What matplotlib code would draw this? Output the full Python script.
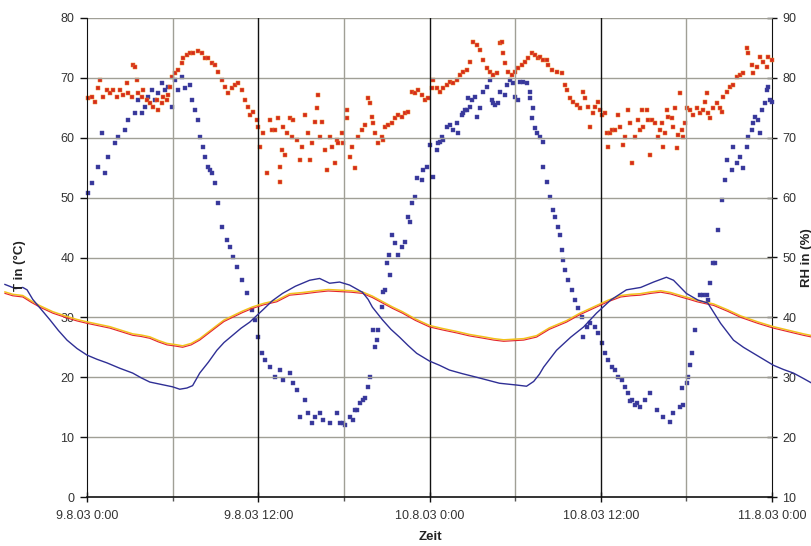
import matplotlib
matplotlib.use("Agg")
import matplotlib.pyplot as plt
import numpy as np

plt.rcParams['font.family'] = ['Liberation Sans', 'DejaVu Sans']

# ---- data (time in hours from 9.8.03 0:00) ----
tick_hours = [0, 12, 24, 36, 48]
tick_labels = ["9.8.03 0:00", "9.8.03 12:00", "10.8.03 0:00", "10.8.03 12:00", "11.8.03 0:00"]
t_ticks = [0, 10, 20, 30, 40, 50, 60, 70, 80]
rh_ticks = [10, 20, 30, 40, 50, 60, 70, 80, 90]

# Temperature sensor 1 (blue line), degC
T1_h = [-5.75, -5.0, -4.5, -4.2, -3.8, -3.2, -2.6, -2.0, -1.4, -0.7, 0, 0.7, 1.4, 2.3, 3.2, 3.8, 4.4, 5.2,
        6.0, 6.5, 7.0, 7.4, 7.9, 8.5, 9.1, 9.6, 10.2, 10.8, 11.4, 12.3, 13.0, 13.7, 14.6, 15.6, 16.3, 17.0,
        17.7, 18.4, 19.3, 19.7, 20.0, 20.7, 21.3, 21.9, 22.5, 23.1, 24.0, 24.7, 25.4, 26.3, 27.3, 28.1, 28.9,
        30.1, 30.8, 31.3, 31.7, 32.0, 32.9, 33.9, 34.8, 35.7, 36.7, 37.8, 38.8, 39.7, 40.6, 41.1, 42.0, 42.8,
        43.5, 44.4, 45.3, 46.0, 46.7, 47.4, 48.1, 48.8, 49.5, 50.2, 50.8]
T1 = [35.5, 34.8, 35.0, 34.6, 33.0, 31.3, 29.6, 27.8, 26.2, 24.8, 23.7, 23.0, 22.4, 21.5, 20.7, 19.9, 19.2, 18.8,
      18.4, 18.0, 18.2, 18.6, 20.7, 22.5, 24.5, 25.8, 27.0, 28.2, 29.2, 31.2, 32.8, 34.0, 35.2, 36.2, 36.5, 35.7,
      35.9, 35.4, 34.2, 33.0, 31.7, 29.6, 28.0, 26.7, 25.3, 24.0, 22.7, 22.0, 21.2, 20.6, 20.0, 19.5, 19.0,
      18.7, 18.5, 19.3, 20.5, 21.7, 24.5, 26.7, 28.4, 30.7, 32.9, 34.6, 35.0, 35.9, 36.7, 36.2, 34.0, 32.9,
      32.4, 29.0, 26.2, 25.0, 24.0, 23.0, 22.0, 21.3, 20.7, 19.8, 19.0]

# Temperature sensor 2 (red line), degC
T2_h = [-5.75, -5.2, -4.5, -3.9, -3.3, -2.4, -1.4, -0.7, 0, 0.8, 1.6, 2.4, 3.2, 3.8, 4.4, 5.0, 5.6, 6.2, 6.7,
        7.3, 7.9, 8.5, 9.1, 9.6, 10.2, 10.9, 11.6, 12.4, 13.3, 14.2, 15.1, 16.1, 16.9, 17.7, 18.5, 19.3, 20.0,
        20.7, 21.4, 22.1, 23.0, 24.0, 24.9, 25.9, 26.8, 27.8, 28.5, 29.2, 29.9, 30.6, 31.5, 32.4, 33.6, 34.5,
        35.5, 36.5, 37.4, 38.1, 38.75, 39.5, 40.2, 40.9, 41.6, 42.2, 42.75, 43.3, 43.9, 44.9, 45.8, 47.0, 48.1,
        48.8, 49.5, 50.2, 50.8]
T2 = [34.0, 33.6, 33.4, 32.5, 31.7, 30.7, 29.9, 29.4, 29.0, 28.6, 28.2, 27.6, 27.0, 26.8, 26.5, 25.9, 25.4, 25.2,
      25.0, 25.4, 26.2, 27.3, 28.4, 29.3, 30.0, 30.8, 31.5, 32.1, 32.6, 33.7, 33.9, 34.2, 34.4, 34.3, 34.2, 34.0,
      33.3, 32.4, 31.5, 30.7, 29.5, 28.4, 27.9, 27.4, 26.9, 26.5, 26.2, 26.0, 26.1, 26.2, 26.7, 28.0, 29.2, 30.4,
      31.5, 32.6, 33.4, 33.6, 33.7, 34.0, 34.2, 33.9, 33.4, 33.0, 32.6, 32.3, 32.0, 31.0, 30.0, 29.0, 28.2,
      27.8, 27.4, 27.0, 26.7]

# Relative humidity sensor 1 (red dots), %
RH1_h = [0.07, 0.35, 0.56, 0.77, 0.91, 1.12, 1.40, 1.61, 1.82, 2.10, 2.31, 2.52, 2.80, 2.87, 3.15, 3.22, 3.36,
         3.50, 3.57, 3.85, 3.92, 4.20, 4.41, 4.63, 4.91, 4.98, 5.26, 5.33, 5.61, 5.68, 5.82, 5.96, 6.17, 6.38,
         6.66, 6.73, 7.01, 7.22, 7.43, 7.78, 8.06, 8.27, 8.48, 8.76, 8.97, 9.18, 9.46, 9.67, 9.88, 10.16, 10.37,
         10.58, 10.86, 11.07, 11.28, 11.42, 11.63, 11.91, 11.98,
         12.12, 12.33, 12.61, 12.82, 12.96, 13.17, 13.38, 13.52, 13.52, 13.67, 13.74, 13.88, 14.02, 14.23, 14.37,
         14.44, 14.72, 14.93, 15.07, 15.28, 15.49, 15.63, 15.77, 15.98, 16.12, 16.19, 16.33, 16.47, 16.68, 16.82,
         17.03, 17.17, 17.38, 17.52, 17.59, 17.87, 17.94, 18.22, 18.22, 18.43, 18.57, 18.78, 18.99, 19.27, 19.48,
         19.69, 19.83, 19.97, 20.04, 20.18, 20.39, 20.67, 20.74, 20.88, 21.09, 21.37, 21.58, 21.79, 22.07, 22.28,
         22.49, 22.78, 22.99, 23.20, 23.48, 23.69, 23.90, 24.18, 24.25, 24.53, 24.74, 24.95, 25.23, 25.44, 25.65,
         25.93, 26.14, 26.35, 26.63, 26.84, 27.05, 27.33, 27.54, 27.75, 28.03, 28.24, 28.45, 28.73, 28.94, 29.08,
         29.15, 29.29, 29.50, 29.78, 29.99, 30.20, 30.48, 30.69, 30.90, 31.18, 31.39, 31.60, 31.74, 31.96, 32.24,
         32.31, 32.59, 32.94, 33.29, 33.50, 33.64, 33.85, 34.06, 34.34, 34.55, 34.76, 34.90, 35.11, 35.25, 35.46,
         35.60, 35.81, 35.95, 36.09, 36.30, 36.44, 36.51, 36.65, 36.79, 37.00, 37.21, 37.35, 37.56, 37.70, 37.91,
         38.05, 38.19, 38.40, 38.61, 38.75, 38.89, 38.96, 39.24, 39.31, 39.45, 39.59, 39.80, 40.01, 40.15, 40.29,
         40.36, 40.50, 40.64, 40.71, 40.99, 41.07, 41.21, 41.35, 41.42, 41.56, 41.70, 41.77, 41.91, 42.05, 42.26,
         42.47, 42.75, 42.96, 43.17, 43.31, 43.45, 43.52, 43.66, 43.87, 44.15, 44.36, 44.50, 44.57, 44.85, 45.06,
         45.27, 45.55, 45.76, 45.97, 46.25, 46.32, 46.60, 46.67, 46.95, 47.16, 47.37, 47.65, 47.72, 48.00]
RH1 = [76.6, 76.8, 76.0, 78.3, 79.6, 76.8, 78.0, 77.5, 78.0, 76.8, 78.0, 77.1, 79.1, 77.5, 76.8, 82.1, 81.8,
       79.6, 77.5, 76.8, 78.0, 76.3, 75.8, 75.1, 76.3, 74.6, 75.8, 76.8, 76.3, 77.1, 78.5, 80.1, 80.8, 81.3,
       82.5, 83.3, 83.8, 84.1, 84.2, 84.5, 84.1, 83.3, 83.3, 82.5, 82.1, 81.0, 79.6, 78.5, 77.5, 78.3, 78.8,
       79.1, 78.0, 76.3, 75.1, 73.8, 74.3, 73.0, 71.8,
       68.5, 70.8, 64.1, 73.0, 71.3, 71.3, 73.3, 65.1, 62.6, 68.0, 71.8, 67.1, 70.8, 73.3, 70.1,
       73.0, 69.6, 66.3, 68.5, 73.8, 70.8, 66.3, 69.1, 72.6, 75.0, 77.1, 70.1, 72.6, 68.0, 64.6,
       70.1, 68.5, 65.8, 69.6, 69.1, 70.8, 69.1, 73.3, 74.6, 66.8, 68.5, 64.9, 70.1, 71.3, 72.1,
       76.6, 75.8, 73.5, 72.5, 70.8, 69.1, 70.1, 69.6, 71.8, 72.1, 72.5, 73.3, 73.8, 73.5, 74.1,
       74.3, 77.6, 77.5, 78.0, 77.1, 76.3, 76.6, 78.3, 79.6, 78.3, 77.6, 78.3, 78.8, 79.3, 79.1,
       79.6, 80.5, 81.0, 81.3, 82.6, 86.0, 85.5, 84.7, 83.0, 81.7, 81.0, 80.5, 80.8, 85.8, 86.0,
       84.1, 82.5, 81.0, 80.5, 81.0, 81.7, 82.1, 82.6, 83.3, 84.1, 83.8, 83.3, 83.5, 83.0, 83.0,
       82.1, 81.3, 81.0, 80.8, 78.8, 78.0, 76.6, 76.0, 75.5, 74.9, 77.6, 76.6, 75.1, 71.8, 74.1,
       75.1, 76.0, 74.6, 73.8, 74.1, 70.8, 68.5, 70.8, 71.3, 71.3, 73.8, 71.8, 68.8, 70.1, 74.6,
       72.5, 65.8, 70.1, 73.0, 71.3, 74.6, 71.8, 74.6, 73.0, 67.1, 73.0, 72.5, 70.1, 71.3, 72.5,
       68.5, 70.8, 74.6, 73.5, 73.3, 71.8, 74.9, 68.3, 70.5, 77.5, 71.3, 70.1, 72.5, 74.9, 74.6,
       73.8, 74.9, 74.1, 74.6, 76.0, 77.5, 74.1, 73.3, 74.9, 75.8, 74.9, 74.3, 76.8, 77.6, 78.5,
       78.8, 80.1, 80.5, 80.8, 85.0, 84.1, 82.1, 80.8, 81.8, 83.5, 82.6, 81.8, 83.5, 83.0]

# Relative humidity sensor 2 (blue dots), %
RH2_h = [0.07, 0.35, 0.77, 1.05, 1.26, 1.47, 1.96, 2.17, 2.66, 2.87, 3.36, 3.57, 3.85, 4.06, 4.27, 4.55, 4.77,
         4.98, 5.26, 5.47, 5.68, 5.96, 6.17, 6.38, 6.66, 6.87, 7.22, 7.36, 7.57, 7.78, 7.92, 8.13, 8.27, 8.48,
         8.62, 8.76, 8.97, 9.18, 9.46, 9.81, 10.02, 10.23, 10.51, 10.86, 11.21, 11.56, 11.77, 11.98, 12.26, 12.47,
         12.82, 13.17, 13.52, 13.74, 14.23, 14.44, 14.72, 14.93, 15.28, 15.49, 15.77, 15.98, 16.33, 16.54, 17.03,
         17.52, 17.73, 17.94, 18.08, 18.43, 18.64, 18.78, 18.92, 19.13, 19.34, 19.48, 19.69, 19.83, 20.04, 20.18,
         20.32, 20.39, 20.67, 20.74, 20.88, 21.02, 21.16, 21.23, 21.37, 21.58, 21.79, 22.07, 22.28, 22.49, 22.63,
         22.78, 22.99, 23.13, 23.48, 23.55, 23.83, 24.04, 24.25, 24.53, 24.60, 24.74, 24.88, 24.95, 25.23, 25.44,
         25.65, 25.93, 26.00, 26.28, 26.35, 26.49, 26.63, 26.70, 26.84, 26.98, 27.19, 27.33, 27.54, 27.75, 28.03,
         28.24, 28.38, 28.45, 28.59, 28.80, 28.94, 29.29, 29.43, 29.64, 29.85, 29.99, 30.20, 30.34, 30.55, 30.83,
         31.04, 31.04, 31.18, 31.25, 31.39, 31.53, 31.74, 31.96, 31.96, 32.24, 32.45, 32.66, 32.80, 33.01, 33.15,
         33.29, 33.36, 33.50, 33.71, 33.99, 34.20, 34.41, 34.69, 34.76, 35.04, 35.25, 35.60, 35.81, 36.09, 36.30,
         36.51, 36.79, 37.00, 37.21, 37.49, 37.70, 37.91, 38.05, 38.19, 38.40, 38.54, 38.75, 39.10, 39.45, 39.94,
         40.36, 40.85, 41.07, 41.56, 41.70, 41.77, 42.05, 42.12, 42.26, 42.40, 42.61, 42.96, 43.17, 43.45, 43.52,
         43.66, 43.87, 44.01, 44.22, 44.50, 44.71, 44.85, 45.20, 45.27, 45.55, 45.76, 45.97, 46.25, 46.32, 46.60,
         46.67, 46.81, 47.02, 47.16, 47.30, 47.51, 47.65, 47.72, 47.86, 48.00]
RH2 = [60.8, 62.4, 65.1, 70.8, 64.1, 66.8, 69.1, 70.1, 71.3, 73.0, 74.1, 76.3, 74.1, 75.1, 76.8, 78.0, 76.3,
       77.5, 79.1, 78.0, 78.5, 75.1, 79.6, 78.0, 80.1, 78.3, 78.8, 76.3, 74.6, 73.0, 70.1, 68.5, 66.8, 65.1,
       64.6, 64.1, 62.4, 59.1, 55.1, 52.9, 51.8, 50.1, 48.4, 46.2, 44.1, 41.2, 39.6, 36.7, 34.0, 32.9,
       31.7, 30.0, 31.2, 29.5, 30.7, 29.0, 27.9, 23.4, 26.2, 24.0, 22.4, 23.4, 24.0, 22.9, 22.4,
       24.0, 22.4, 22.4, 22.0, 23.4, 22.9, 24.5, 24.5, 25.7, 26.2, 26.5, 28.4, 30.0, 37.9, 35.0,
       36.2, 37.9, 41.7, 44.2, 44.6, 49.1, 50.4, 47.1, 53.8, 52.4, 50.4, 51.8, 52.6, 56.8, 55.9,
       59.1, 60.1, 63.3, 62.9, 64.6, 65.1, 68.8, 63.4, 68.0, 69.1, 69.3, 70.1, 69.6, 71.8, 72.1,
       71.3, 72.5, 70.8, 73.8, 74.1, 74.6, 74.6, 76.6, 75.1, 76.3, 76.8, 73.5, 74.9, 77.6, 78.5,
       79.6, 76.3, 75.8, 75.5, 75.8, 77.6, 77.1, 78.8, 79.6, 79.1, 76.8, 76.3, 79.3, 79.3, 79.1,
       77.6, 76.6, 73.3, 74.9, 71.6, 70.8, 70.1, 69.3, 65.1, 62.6, 60.1, 57.9, 56.8, 55.1, 53.8,
       51.3, 49.6, 47.9, 46.2, 44.6, 42.9, 41.6, 40.1, 36.7, 38.4, 39.1, 38.4, 37.4, 35.7, 34.0,
       32.9, 31.7, 31.2, 30.0, 29.5, 28.4, 27.4, 26.0, 26.2, 25.3, 25.7, 25.0, 26.2, 27.4, 24.5,
       23.4, 22.5, 24.0, 25.0, 28.2, 25.4, 29.0, 30.0, 32.0, 34.0, 37.9, 43.7, 43.7, 43.7, 42.9,
       45.7, 49.1, 49.0, 54.6, 59.6, 62.9, 66.3, 64.6, 68.5, 65.8, 66.8, 64.9, 68.5, 70.1, 71.3,
       72.5, 73.5, 73.0, 70.8, 74.6, 75.8, 78.0, 78.5, 76.3, 76.0]

# ---- figure ----
W, H = 812, 546
fig = plt.figure(figsize=(W / 100, H / 100), dpi=100)
fig.patch.set_facecolor('white')

left_px, right_px, top_px, bot_px = 0, 812, 18, 497
ax = fig.add_axes([left_px / W, 1 - bot_px / H, (right_px - left_px) / W, (bot_px - top_px) / H])
px_per_h = (772 - 87) / 48.0
x0 = -(87 - left_px) / px_per_h
x1 = 48 + (right_px - 772) / px_per_h
ax.set_xlim(x0, x1)
ax.set_ylim(0, 80)
ax.set_facecolor('none')

ax2 = ax.twinx()
ax2.set_ylim(10, 90)
ax2.set_xlim(x0, x1)

grid_gray = '#a09f96'
for y in t_ticks[1:]:
    ax.plot([0, 48], [y, y], color=grid_gray, lw=1.0, zorder=1, solid_capstyle='butt')
for h in [6, 18, 30, 42]:
    ax.plot([h, h], [0, 80], color=grid_gray, lw=1.0, zorder=1)
for h in [12, 24, 36]:
    ax.plot([h, h], [0, 80], color='#111111', lw=1.0, zorder=1)

# RH dots on right axis
ax2.plot(RH2_h, RH2, linestyle='none', marker='s', ms=2.2, mfc='#36369a', mec='#4a4aa6', mew=0.3, zorder=3)
ax2.plot(RH1_h, RH1, linestyle='none', marker='s', ms=2.3, mfc='#d42a1e', mec='#ee8a28', mew=0.35, zorder=3)

# Temperature lines (left axis)
T2_shift = [v + 0.25 for v in T2]
ax.plot(T2_h, T2_shift, color='#f2c21b', lw=1.1, zorder=4)
ax.plot(T2_h, T2, color='#e4262a', lw=0.8, zorder=5)
ax.plot(T1_h, T1, color='#2f2f95', lw=1.0, zorder=6)
ax.set_zorder(ax2.get_zorder() + 1)

# spines
for s in ['top', 'right']:
    ax.spines[s].set_visible(False)
ax.spines['left'].set_position(('data', 0))
ax.spines['left'].set_color('#111111')
ax.spines['bottom'].set_bounds(0, 48)
ax.spines['bottom'].set_color('#111111')
ax.spines['bottom'].set_linewidth(1.2)
for s in ['top', 'left', 'bottom']:
    ax2.spines[s].set_visible(False)
ax2.spines['right'].set_position(('data', 48))
ax2.spines['right'].set_color('#111111')

ax.set_yticks(t_ticks)
ax.set_yticklabels([str(v) for v in t_ticks])
ax2.set_yticks(rh_ticks)
ax2.set_yticklabels([str(v) for v in rh_ticks])
ax.set_xticks(tick_hours)
ax.set_xticklabels(tick_labels)
ax.set_xticks([6, 18, 30, 42], minor=True)

ax.tick_params(axis='y', direction='out', length=5, width=1, labelsize=9, pad=4, colors='#111111', labelcolor='#333333')
ax.tick_params(axis='x', which='major', direction='inout', length=7, width=1, labelsize=9, pad=6, colors='#111111', labelcolor='#333333')
ax.tick_params(axis='x', which='minor', direction='out', length=3, width=1, colors='#555555')
ax2.tick_params(axis='y', direction='inout', length=7, width=1, labelsize=9, pad=4, colors='#111111', labelcolor='#333333')

fig.text(20 / W, 1 - 266 / H, 'T in (°C)', rotation=90, ha='center', va='center', fontsize=9.5, fontweight='bold', color='#222222')
fig.text(807 / W, 1 - 258 / H, 'RH in (%)', rotation=90, ha='center', va='center', fontsize=9.5, fontweight='bold', color='#222222')
fig.text(430 / W, 1 - 537 / H, 'Zeit', ha='center', va='center', fontsize=9.5, fontweight='bold', color='#222222')

fig.savefig('out.png', dpi=100, facecolor='white')
